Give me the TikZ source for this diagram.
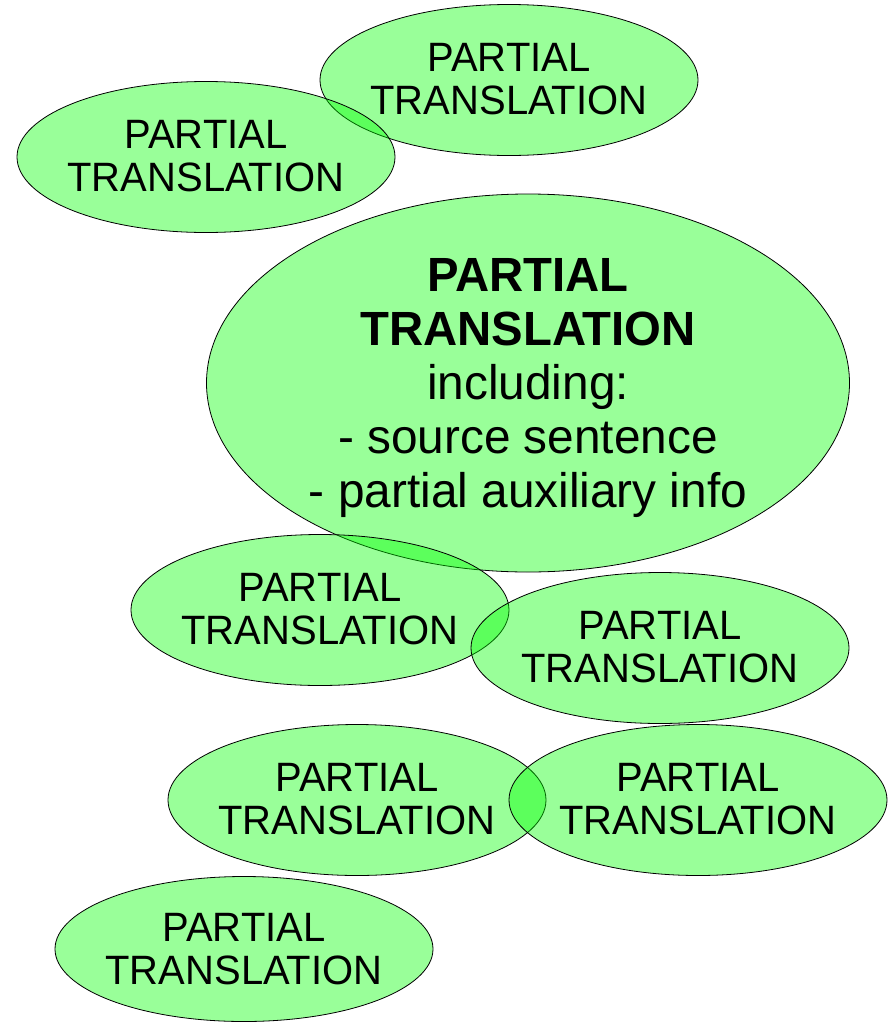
\documentclass[tikz,border=0pt]{standalone}
\usepackage{fontspec}
\setmainfont{Liberation Sans}
\newfontfamily\smallfam[FakeStretch=0.975]{Liberation Sans}
\newfontfamily\bigfam[FakeStretch=0.985]{Liberation Sans}
\usetikzlibrary{shapes.geometric}
\tikzset{
  blob/.style={ellipse, draw=black, line width=0.8pt, fill=green, fill opacity=0.4, draw opacity=1, inner sep=0pt},
  small/.style={blob, minimum width=378pt, minimum height=151pt},
  smalltext/.style={align=center, inner sep=0pt, text opacity=1, font=\smallfam\fontsize{41}{43}\selectfont},
  bigtext/.style={align=center, inner sep=0pt, text opacity=1, font=\bigfam\fontsize{48.5}{54}\selectfont}
}
\begin{document}
\begin{tikzpicture}[x=1pt,y=-1pt]
\useasboundingbox (0,0) rectangle (891,1023);
\node[small] (e1) at (509,80) {};
\node[small] (e2) at (206,157) {};
\node[blob, minimum width=643pt, minimum height=378pt] (e3) at (528,383) {};
\node[small] (e4) at (320,610) {};
\node[small] (e5) at (660,648) {};
\node[small] (e6) at (357,800) {};
\node[small] (e7) at (698,800) {};
\node[small, minimum height=145pt] (e8) at (244,949) {};
\node[smalltext] (t1) at ([yshift=1pt]e1.center) {PARTIAL\\TRANSLATION};
\node[smalltext] (t2) at ([yshift=1pt]e2.center) {PARTIAL\\TRANSLATION};
\node[bigtext, anchor=north] (t3) at ([yshift=124.5pt]e3.center) {{\fontsize{48}{54}\selectfont\bfseries PARTIAL}\\{\fontsize{48}{54}\selectfont\bfseries TRANSLATION}\\including:\\- source sentence\\- partial auxiliary info};
\node[smalltext] (t4) at ([yshift=1pt]e4.center) {PARTIAL\\TRANSLATION};
\node[smalltext] (t5) at ([yshift=1pt]e5.center) {PARTIAL\\TRANSLATION};
\node[smalltext] (t6) at ([yshift=1pt]e6.center) {PARTIAL\\TRANSLATION};
\node[smalltext] (t7) at ([yshift=1pt]e7.center) {PARTIAL\\TRANSLATION};
\node[smalltext] (t8) at (e8.center) {PARTIAL\\TRANSLATION};
\end{tikzpicture}
\end{document}
